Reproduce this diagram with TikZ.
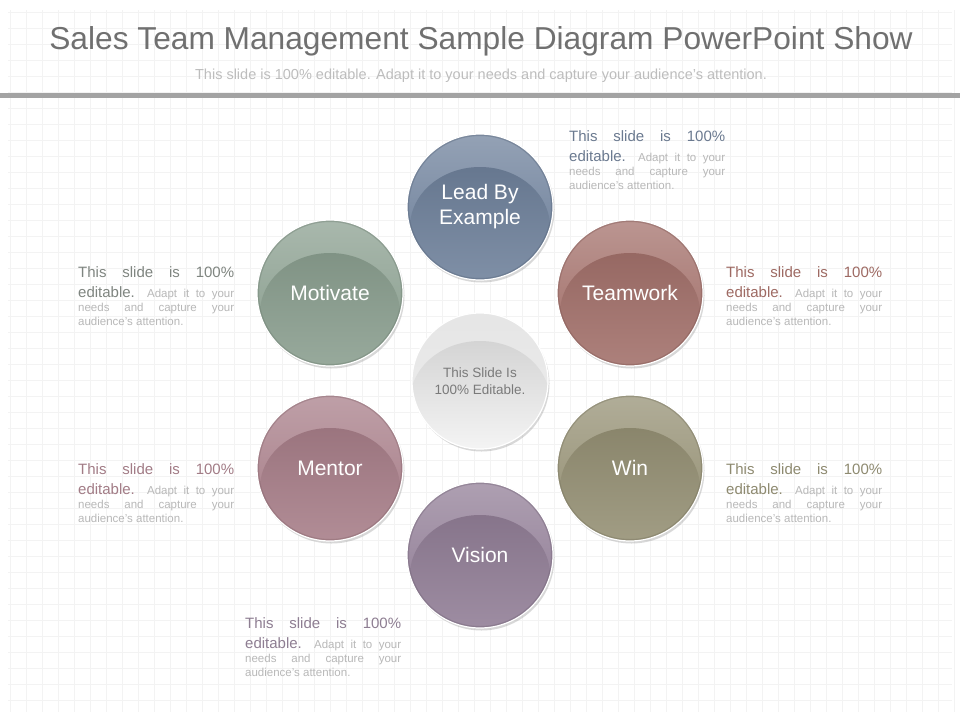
\documentclass[tikz,border=0pt]{standalone}
\usepackage{fontspec}
\setmainfont{Liberation Sans}
\usetikzlibrary{shadows}
\hyphenpenalty=10000
\exhyphenpenalty=10000
\tolerance=9999
\definecolor{gridc}{HTML}{F3F3F3}
\definecolor{barc}{HTML}{A3A3A3}
\definecolor{titlec}{HTML}{707070}
\definecolor{subc}{HTML}{BDBDBD}
\definecolor{smallc}{HTML}{B8B8B8}
\definecolor{cLead}{HTML}{6A7D98}
\definecolor{cTeam}{HTML}{A06C66}
\definecolor{cWin}{HTML}{928D70}
\definecolor{cVision}{HTML}{8E7A93}
\definecolor{cMentor}{HTML}{A57A85}
\definecolor{cMotiv}{HTML}{879C8C}
\definecolor{tLead}{HTML}{6B7A90}
\definecolor{tTeam}{HTML}{9E6A63}
\definecolor{tWin}{HTML}{8E8A70}
\definecolor{tMotiv}{HTML}{7F8580}
\definecolor{tMentor}{HTML}{A27C86}
\definecolor{tVision}{HTML}{8E7E92}
\definecolor{centertext}{HTML}{7A7A7A}
\newcommand\blurbtext[1]{{\color{#1}\fontsize{15}{15}\selectfont This slide is 100\% \rule{0pt}{19pt}editable.} {\color{smallc}\fontsize{11.5}{14}\selectfont Adapt it to your needs and capture your audience's attention.\par}}
\tikzset{
  ballbase/.style n args={5}{circle, inner sep=0pt, draw=white, line width=1.2pt,
    top color=#1, bottom color=#2,
    drop shadow={opacity=0.3, shadow xshift=1.5pt, shadow yshift=-2.5pt},
    path picture={
      \shade[top color=#3, bottom color=#4] ([yshift=-20pt]path picture bounding box.center) ellipse (70pt and 60pt);
      \draw[#5, line width=2pt, opacity=0.4] (path picture bounding box.center) circle (72pt);
    }},
  ball/.style={ballbase={#1!72!white}{#1}{#1!90!black}{#1!85!white}{#1!80!black},
    minimum size=146pt, text=white, font=\fontsize{21}{25}\selectfont, align=center},
  blurb/.style={anchor=north west, inner sep=0pt, text width=156pt, align=justify},
}
\begin{document}
\begin{tikzpicture}[x=1pt,y=-1pt]
\useasboundingbox (0,0) rectangle (960,720);
\fill[white] (0,0) rectangle (960,720);
% grid
\foreach \gx in {10,26,...,954} \draw[gridc, line width=0.9pt] (\gx,10) -- (\gx,712);
\foreach \gy in {12,28,...,712} \draw[gridc, line width=0.9pt] (8,\gy) -- (952,\gy);
% title
\node[anchor=base, text=titlec, font=\fontsize{31.7}{36}\selectfont, inner sep=0pt] (title) at (481,49) {Sales Team Management Sample Diagram PowerPoint Show};
\node[anchor=base, text=subc, font=\fontsize{14.5}{16}\selectfont, inner sep=0pt] (subtitle) at (481,79) {This slide is 100\% editable. Adapt it to your needs and capture your audience's attention.};
\fill[barc] (0,93) rectangle (960,98);
% balls
\node[ball=cLead] (lead) at (480,207) {Lead By\\Example};
\node[ball=cTeam] (team) at (630,293) {Teamwork};
\node[ball=cWin] (win) at (630,468) {Win};
\node[ball=cVision] (vision) at (480,555) {Vision};
\node[ball=cMentor] (mentor) at (330,468) {Mentor};
\node[ball=cMotiv] (motiv) at (330,293) {Motivate};
\node[ballbase={white!90!black}{white!93!black}{white!80!black}{white!97!black}{white!75!black}, minimum size=136pt, text=centertext, font=\fontsize{13.5}{16.5}\selectfont, align=center] (center) at (480,381) {This Slide Is\\100\% Editable.};
% text blocks
\node[blurb] (bLead) at (569,130) {\blurbtext{tLead}};
\node[blurb] (bTeam) at (726,266) {\blurbtext{tTeam}};
\node[blurb] (bWin) at (726,463) {\blurbtext{tWin}};
\node[blurb] (bMotiv) at (78,266) {\blurbtext{tMotiv}};
\node[blurb] (bMentor) at (78,463) {\blurbtext{tMentor}};
\node[blurb] (bVision) at (245,617) {\blurbtext{tVision}};
\end{tikzpicture}
\end{document}
